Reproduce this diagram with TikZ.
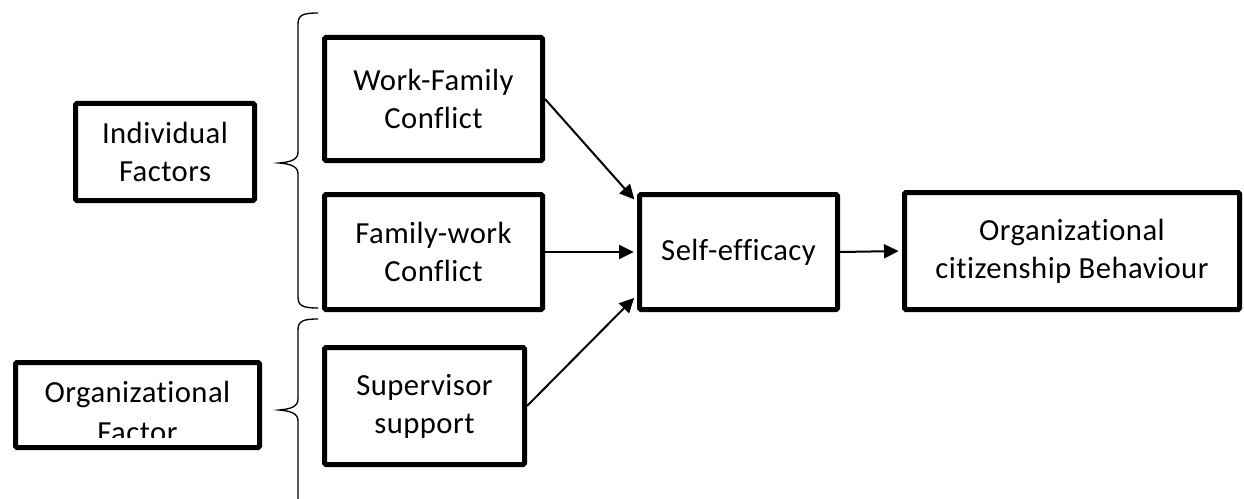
\documentclass[tikz,border=0pt]{standalone}
\usepackage{fontspec}
\newfontfamily\boxfont{Carlito}[LetterSpace=1.5,Ligatures={NoCommon}]
\usetikzlibrary{arrows.meta}

\tikzset{
    box/.style={draw,line width=3.75pt,rounded corners=1pt,align=center,inner sep=0pt,
        font=\boxfont\fontsize{23}{28.5}\selectfont},
    link/.style={line width=1.5pt,-{Triangle[length=11pt,width=10.5pt]}},
    grouping/.style={line width=1pt}
}

\begin{document}
\begin{tikzpicture}[x=0.75pt,y=-0.75pt]
        \useasboundingbox (0,0) rectangle (1244,499);
        % the two groups on the left
        \node[box,minimum width=134.25pt,minimum height=72.75pt] (indiv) at (165,152) {Individual\\Factors};
        \begin{scope}
            \clip (15,362) rectangle (260,437);
            \node[align=center,inner sep=0pt,font=\boxfont\fontsize{23}{30}\selectfont] (orgtext) at (137.5,412) {Organizational\\Factor};
        \end{scope}
        \node[box,minimum width=183pt,minimum height=63.75pt] (orgfac) at (137.5,405) {};
        % braces
        \draw[grouping] (318,13) .. controls (303,13) and (298,15) .. (298,24) -- (298,152)
            .. controls (298,159) and (292,162) .. (279,163) .. controls (292,164) and (298,167) .. (298,174)
            -- (298,297) .. controls (298,306) and (303,308) .. (318,308);
        \draw[grouping] (318,319) .. controls (303,319) and (298,321) .. (298,330) -- (298,399)
            .. controls (298,406) and (292,409) .. (279,410) .. controls (292,411) and (298,414) .. (298,421)
            -- (298,520);
        % factors
        \node[box,minimum width=163.5pt,minimum height=92.25pt] (wfc) at (433.5,99) {Work-Family\\Conflict};
        \node[box,minimum width=163.5pt,minimum height=86.25pt] (fwc) at (433.5,252) {Family-work\\Conflict};
        \node[box,minimum width=150pt,minimum height=87.75pt] (sup) at (424.5,406) {Supervisor\\support};
        % mediator and outcome
        \node[box,minimum width=148.5pt,minimum height=86.25pt] (self) at (738.5,252) {Self-efficacy};
        \node[box,minimum width=251.25pt,minimum height=87.75pt] (ocb) at (1072,251) {Organizational\\citizenship Behaviour};
        \draw[link,shorten >=3pt] (wfc.east) -- (self.154);
        \draw[link,shorten >=2.5pt] (fwc.east) -- (self.west);
        \draw[link,shorten >=3pt] (sup.east) -- (self.203);
        \draw[link,shorten >=2.5pt] (self.east) -- (ocb.west);
    \end{tikzpicture}
\end{document}
